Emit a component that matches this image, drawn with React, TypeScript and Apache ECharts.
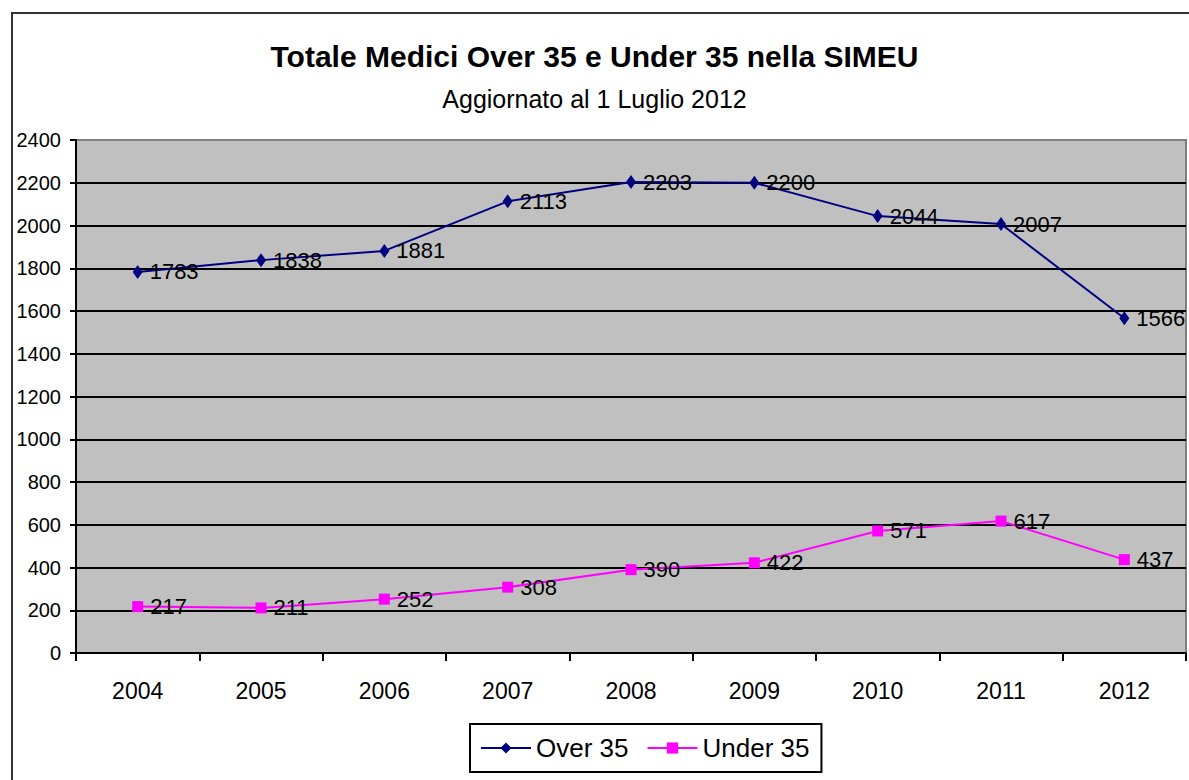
import React, { useEffect, useRef } from "react";
import * as echarts from "echarts";

const categories = ["2004", "2005", "2006", "2007", "2008", "2009", "2010", "2011", "2012"];
const over35 = [1783, 1838, 1881, 2113, 2203, 2200, 2044, 2007, 1566];
const under35 = [217, 211, 252, 308, 390, 422, 571, 617, 437];
const titleText = "Totale Medici Over 35 e Under 35 nella SIMEU";
const subtitleText = "Aggiornato al 1 Luglio 2012";

const FONT = "'Liberation Sans', Arial, sans-serif";

export default function App() {
  const ref = useRef<HTMLDivElement>(null);
  useEffect(() => {
    if (!ref.current) return;
    const chart = echarts.init(ref.current, null, { renderer: "svg" });
    const splitColors: string[] = [];
    for (let i = 0; i < 12; i++) splitColors.push("#000000");
    splitColors.push("#808080");
    chart.setOption({
      animation: false,
      backgroundColor: "#ffffff",
      textStyle: { fontFamily: FONT },
      title: [
        {
          text: titleText,
          left: "center",
          top: 36,
          textStyle: { fontFamily: FONT, fontSize: 30, fontWeight: "bold", color: "#000000" },
        },
        {
          text: subtitleText,
          left: "center",
          top: 81,
          textStyle: { fontFamily: FONT, fontSize: 25, fontWeight: "normal", color: "#000000" },
        },
      ],
      graphic: [
        {
          type: "rect",
          shape: { x: 12, y: 13, width: 1400, height: 1000 },
          style: { fill: "none", stroke: "#333333", lineWidth: 2 },
          silent: true,
          z: 100,
        },
      ],
      grid: {
        left: 76,
        top: 140,
        right: 3,
        bottom: 127,
        show: true,
        backgroundColor: "#C0C0C0",
        borderColor: "#808080",
        borderWidth: 2,
      },
      legend: {
        left: 470,
        top: 724,
        orient: "horizontal",
        backgroundColor: "#ffffff",
        borderColor: "#000000",
        borderWidth: 2,
        padding: [11, 12, 11, 10],
        itemWidth: 50,
        itemHeight: 14,
        itemGap: 18,
        textStyle: { fontFamily: FONT, fontSize: 26, color: "#000000" },
        data: ["Over 35", "Under 35"],
      },
      xAxis: {
        type: "category",
        data: categories,
        boundaryGap: true,
        axisLine: { show: true, lineStyle: { color: "#000000", width: 2 } },
        axisTick: { show: true, length: 8, lineStyle: { color: "#000000", width: 2 } },
        axisLabel: { fontFamily: FONT, fontSize: 23, color: "#000000", margin: 26 },
        splitLine: { show: false },
      },
      yAxis: {
        type: "value",
        min: 0,
        max: 2400,
        interval: 200,
        axisLine: { show: true, lineStyle: { color: "#000000", width: 2 } },
        axisTick: { show: true, length: 6, lineStyle: { color: "#000000", width: 2 } },
        axisLabel: {
          fontFamily: FONT,
          fontSize: 20,
          color: "#000000",
          margin: 15,
          formatter: (v: number) => String(v),
        },
        splitLine: { show: true, lineStyle: { color: splitColors, width: 2 } },
      },
      series: [
        {
          name: "Over 35",
          type: "line",
          data: over35,
          symbol: "diamond",
          symbolSize: [10, 14],
          lineStyle: { color: "#000080", width: 2 },
          itemStyle: { color: "#000080" },
          label: {
            show: true,
            position: "right",
            distance: 7,
            fontFamily: FONT,
            fontSize: 22,
            color: "#000000",
          },
          z: 5,
        },
        {
          name: "Under 35",
          type: "line",
          data: under35,
          symbol: "rect",
          symbolSize: 11,
          lineStyle: { color: "#FF00FF", width: 2 },
          itemStyle: { color: "#FF00FF" },
          label: {
            show: true,
            position: "right",
            distance: 7,
            fontFamily: FONT,
            fontSize: 22,
            color: "#000000",
          },
          z: 5,
        },
      ],
    });
    return () => chart.dispose();
  }, []);
  return (
    <div
      ref={ref}
      style={{ position: "absolute", left: 0, top: 0, width: 1189, height: 780 }}
    />
  );
}
